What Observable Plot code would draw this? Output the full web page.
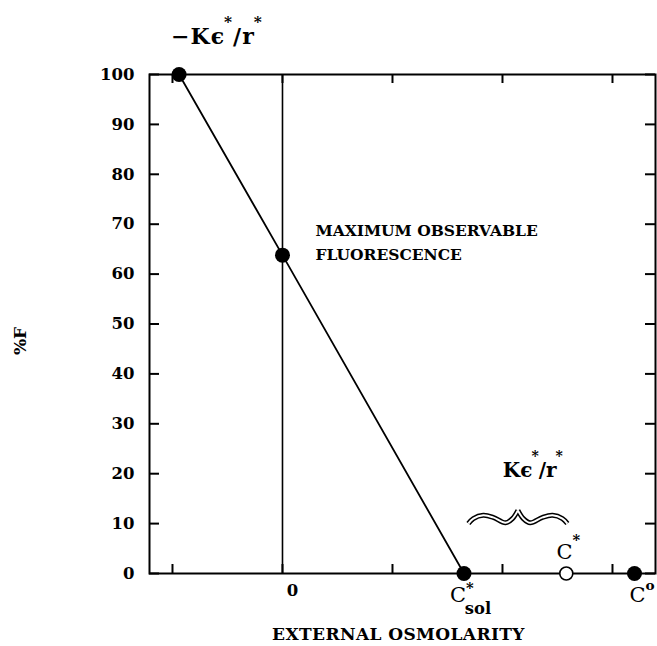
<!DOCTYPE html>
<html><head><meta charset="utf-8">
<script src="https://cdn.jsdelivr.net/npm/d3@7"></script>
<script src="https://cdn.jsdelivr.net/npm/@observablehq/plot@0.6"></script>
<style>body{margin:0;background:#fff} svg{display:block;background:#fff}</style>
</head><body><div id="chart"></div>
<script>
// ---- data ----
const yTicks = [0, 10, 20, 30, 40, 50, 60, 70, 80, 90, 100];
const xTicks = [-1, 0, 1, 2, 3];
const xTickLabelValues = [0];
const xTickLabelTexts = ["0"];
const xDomain = [-1.209, 3.391];
const yDomain = [0, 100];
// filled points: -Kε*/r*, maximum observable fluorescence, C*sol, C°
const pointNames = ["negK", "max", "Csol", "C0"];
const pointX = [-0.94, 0, 1.65, 3.2];
const pointY = [100, 63.8, 0, 0];
// open point C*
const openX = [2.58];
const openY = [0];
// the straight line passes through the first three points
const lineNames = ["negK", "max", "Csol"];
const xTitle = "EXTERNAL OSMOLARITY";
const yTitle = "%F";
const annText = {
  negK: "−Kϵ^*/r^*",
  max: "MAXIMUM OBSERVABLE\nFLUORESCENCE",
  brace: "Kϵ^*/r^*",
  Cstar: "C^*",
  Csol: "C^*_sol",
  C0: "C^o"
};

// ---- derived tables ----
const points = pointNames.map((n, i) => ({name: n, x: pointX[i], y: pointY[i]}));
const P = Object.fromEntries(points.map(d => [d.name, d]));
const openPts = openX.map((x, i) => ({x, y: openY[i]}));
const linePts = lineNames.map(n => P[n]);
const xLab = xTickLabelValues.map((v, i) => ({x: v, y: 0, text: xTickLabelTexts[i]}));

// curly brace spanning C*sol .. C*  (Kε*/r*) — shape profile of one arm (end -> tip)
const bx0 = P.Csol.x + 0.04, bx1 = openX[0] + 0.01;
const armT = [0, 0.1, 0.3, 0.5, 0.75, 0.89, 1];
const armY = [10.0, 11.0, 11.65, 11.25, 10.15, 11.0, 12.65];
const bmid = (bx0 + bx1) / 2;
const brace = [];
armT.forEach((t, i) => brace.push({arm: "L", x: bx0 + (bmid - bx0) * t, y: armY[i]}));
armT.forEach((t, i) => brace.push({arm: "R", x: bx1 + (bmid - bx1) * t, y: armY[i]}));

const W = 657, H = 646, ML = 149, MR = 2, MT = 74, MB = 73;
const PW = W - ML - MR, PH = H - MT - MB;
const FONT = "DejaVu Serif";

const chart = Plot.plot({
  width: W, height: H,
  marginLeft: ML, marginRight: MR, marginTop: MT, marginBottom: MB,
  x: {domain: xDomain, axis: null},
  y: {domain: yDomain},
  style: {fontFamily: FONT, background: "white", color: "black"},
  marks: [
    Plot.frame({stroke: "black", strokeWidth: 2}),
    // inward ticks on all four sides
    Plot.tickY(yTicks, {y: d => d, insetRight: PW - 10, strokeWidth: 2}),
    Plot.tickY(yTicks, {y: d => d, insetLeft: PW - 10, strokeWidth: 2}),
    Plot.tickX(xTicks, {x: d => d, insetTop: PH - 9, strokeWidth: 2}),
    Plot.tickX(xTicks, {x: d => d, insetBottom: PH - 9, strokeWidth: 2}),
    Plot.axisY(yTicks, {tickSize: 0, tickPadding: 15, fontSize: 16.5, fontWeight: "bold", label: null}),
    Plot.text(xLab, {x: "x", y: "y", text: "text", dx: 10, dy: 17, fontSize: 16.5, fontWeight: "bold"}),
    // vertical line at zero osmolarity
    Plot.ruleX([0], {strokeWidth: 1.6}),
    Plot.line(linePts, {x: "x", y: "y", strokeWidth: 1.8}),
    Plot.dot(points, {x: "x", y: "y", r: 7.5, fill: "black", stroke: null}),
    Plot.dot(openPts, {x: "x", y: "y", r: 6.5, fill: "white", stroke: "black", strokeWidth: 1.6}),
    // brace (double line)
    Plot.line(brace, {x: "x", y: "y", z: "arm", curve: "catmull-rom", stroke: "black", strokeWidth: 5, strokeLinecap: "butt"}),
    Plot.line(brace, {x: "x", y: "y", z: "arm", curve: "catmull-rom", stroke: "white", strokeWidth: 2, strokeLinecap: "butt"}),
    // annotations
    Plot.text([P.negK], {x: "x", y: "y", text: () => annText.negK, textAnchor: "start", dx: -8, dy: -38, fontSize: 22, fontWeight: "bold", className: "rt-negK"}),
    Plot.text([P.max], {x: "x", y: "y", text: () => annText.max, textAnchor: "start", dx: 33, dy: -15, fontSize: 15.5, fontWeight: "bold", lineHeight: 1.55}),
    Plot.text([{x: bmid, y: armY[0]}], {x: "x", y: "y", text: () => annText.brace, textAnchor: "middle", dx: 15, dy: -53, fontSize: 20, fontWeight: "bold", className: "rt-brace"}),
    Plot.text(openPts, {x: "x", y: "y", text: () => annText.Cstar, textAnchor: "middle", dx: 2, dy: -21, fontSize: 21, className: "rt-Cstar"}),
    Plot.text([P.Csol], {x: "x", y: "y", text: () => annText.Csol, textAnchor: "start", dx: -14, dy: 22, fontSize: 21, className: "rt-Csol"}),
    Plot.text([P.C0], {x: "x", y: "y", text: () => annText.C0, textAnchor: "start", dx: -5, dy: 22, fontSize: 21, className: "rt-C0"}),
    // axis titles
    Plot.text([xTitle], {frameAnchor: "bottom", text: d => d, textAnchor: "middle", lineAnchor: "middle", dx: -4, dy: 61, fontSize: 17, fontWeight: "bold", className: "rt-xtitle"}),
    Plot.text([yTitle], {frameAnchor: "left", text: d => d, rotate: -90, textAnchor: "middle", lineAnchor: "middle", dx: -129, dy: 17, fontSize: 17, fontWeight: "bold"})
  ]
});
document.getElementById("chart").appendChild(chart);

// letter spacing for the x title and top label
chart.querySelectorAll(".rt-xtitle text").forEach(t => t.setAttribute("letter-spacing", "0.4"));
chart.querySelectorAll(".rt-negK text").forEach(t => t.setAttribute("letter-spacing", "1"));

// rich text: ^c superscript, _abc subscript
function parseRich(s) {
  const segs = []; let buf = ""; let i = 0;
  const flush = () => { if (buf) segs.push({t: buf, m: "n"}); buf = ""; };
  while (i < s.length) {
    const c = s[i];
    if (c === "^") { flush(); segs.push({t: s[i + 1], m: "sup"}); i += 2; }
    else if (c === "_") {
      flush(); let j = i + 1, t = "";
      while (j < s.length && /[a-z0-9]/i.test(s[j])) t += s[j++];
      segs.push({t, m: "sub"}); i = j;
    } else { buf += c; i++; }
  }
  flush();
  return segs;
}
function richify(cls, opt) {
  chart.querySelectorAll(`.${cls} text`).forEach(el => {
    const s = el.textContent;
    const fs = parseFloat(getComputedStyle(el).fontSize);
    el.textContent = "";
    let cur = 0;
    for (const seg of parseRich(s)) {
      const ts = document.createElementNS("http://www.w3.org/2000/svg", "tspan");
      let target = 0, size = fs, weight = null, dx = 0;
      if (seg.m === "sup") { target = (seg.t === "*" ? opt.star : opt.ring) * fs; size = (seg.t === "*" ? 0.7 : 0.65) * fs; weight = "bold"; dx = opt.supDx || 0; }
      else if (seg.m === "sub") { target = opt.sub * fs; size = 0.78 * fs; weight = "bold"; dx = opt.subDx || 0; }
      ts.setAttribute("dy", (target - cur).toFixed(2));
      if (dx) ts.setAttribute("dx", dx);
      ts.setAttribute("font-size", size.toFixed(2));
      if (weight) ts.setAttribute("font-weight", weight);
      cur = target;
      ts.textContent = seg.t;
      el.appendChild(ts);
    }
  });
}
richify("rt-negK", {star: -0.76, ring: -0.6, sub: 0.5, supDx: -1});
richify("rt-brace", {star: -0.8, ring: -0.6, sub: 0.5, supDx: -1});
richify("rt-Cstar", {star: -0.68, ring: -0.6, sub: 0.5});
richify("rt-Csol", {star: -0.43, ring: -0.6, sub: 0.55, subDx: -9});
richify("rt-C0", {star: -0.43, ring: -0.6, sub: 0.5});
</script>
</body></html>
